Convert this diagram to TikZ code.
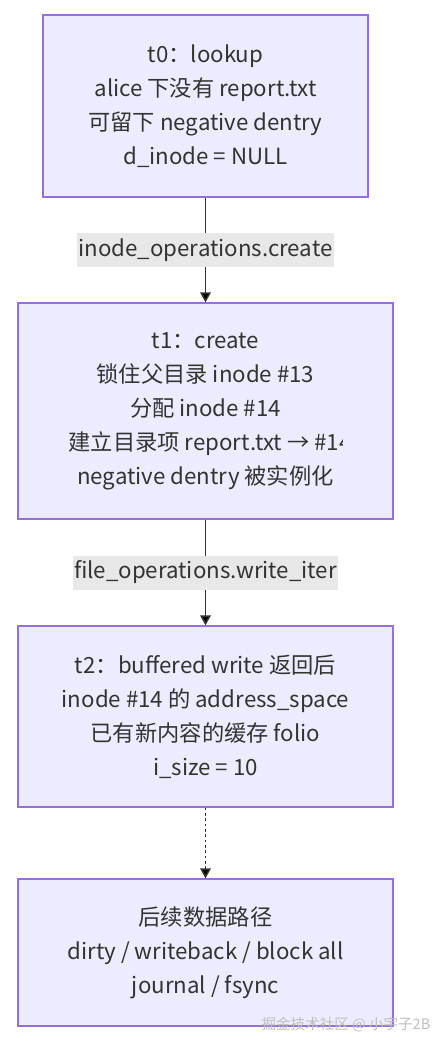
\documentclass[tikz,border=0pt]{standalone}
\usepackage{fontspec}
\setmainfont{Noto Sans CJK SC}
\usetikzlibrary{arrows.meta}

\definecolor{stagefill}{HTML}{ECECFF}
\definecolor{stageline}{HTML}{9370DB}
\definecolor{ink}{HTML}{333333}
\definecolor{tagfill}{HTML}{E8E8E8}

% a line that is cut off just after its first part
\newlength\cutwidth
\newcommand{\cutline}[2]{%
  \settowidth{\cutwidth}{#1}%
  \addtolength{\cutwidth}{2.5pt}%
  \begin{pgfpicture}%
    \pgfsetbaseline{0pt}%
    \pgfpathrectangle{\pgfpoint{0pt}{-6pt}}{\pgfpoint{\cutwidth}{23pt}}%
    \pgfusepath{clip}%
    \pgftext[base,left]{\color{ink}#1#2}%
  \end{pgfpicture}}

\begin{document}
\begin{tikzpicture}[
    x = 0.75pt,
    y = -0.75pt,
    stage/.style = {
      shape = rectangle,
      draw = stageline,
      fill = stagefill,
      line width = 1pt,
      text = ink,
      align = center,
      font = \fontsize{16.7}{25.5}\selectfont,
      inner sep = 0pt
    },
    tag/.style = {
      fill = tagfill,
      text = ink,
      font = \fontsize{16.7}{20}\selectfont,
      inner xsep = 1pt,
      minimum height = 25.5pt
    },
    flow/.style = {
      draw = ink,
      line width = 1.1pt,
      -{Triangle[length = 7.5pt, width = 8pt]}
    },
    later/.style = {
      flow,
      dash pattern = on 2pt off 2pt
    }
  ]
    \useasboundingbox (0, 0) rectangle (446, 1048);

    \node[stage, minimum width = 243.75pt, minimum height = 136.5pt] (t0) at (205.5, 106)
      {t0：lookup\\alice 下没有 report.txt\\可留下 negative dentry\\d\_inode = NULL};
    \node[stage, minimum width = 281.25pt, minimum height = 162pt] (t1) at (205.5, 411)
      {t1：create\\锁住父目录 inode \#13\\分配 inode \#14\\
       \cutline{建立目录项 report.txt → \#1}{4}\\negative dentry 被实例化};
    \node[stage, minimum width = 281.25pt, minimum height = 135.75pt] (t2) at (205.5, 716.5)
      {t2：buffered write 返回后\\inode \#14 的 address\_space\\已有新内容的缓存 folio\\i\_size = 10};
    \node[stage, minimum width = 281.25pt, minimum height = 110.25pt] (t3) at (205.5, 952.5)
      {后续数据路径\\dirty / writeback / block all\\journal / fsync};

    \draw[flow] (t0) -- node[tag] {inode\_operations.create} (t1);
    \draw[flow] (t1) -- node[tag] {file\_operations.write\_iter} (t2);
    \draw[later] (t2) -- (t3);

    \node[text = black!25, font = \fontsize{10.9}{13}\selectfont] (mark) at (346, 1025)
      {掘金技术社区 @ 小宇子2B};
  \end{tikzpicture}
\end{document}
